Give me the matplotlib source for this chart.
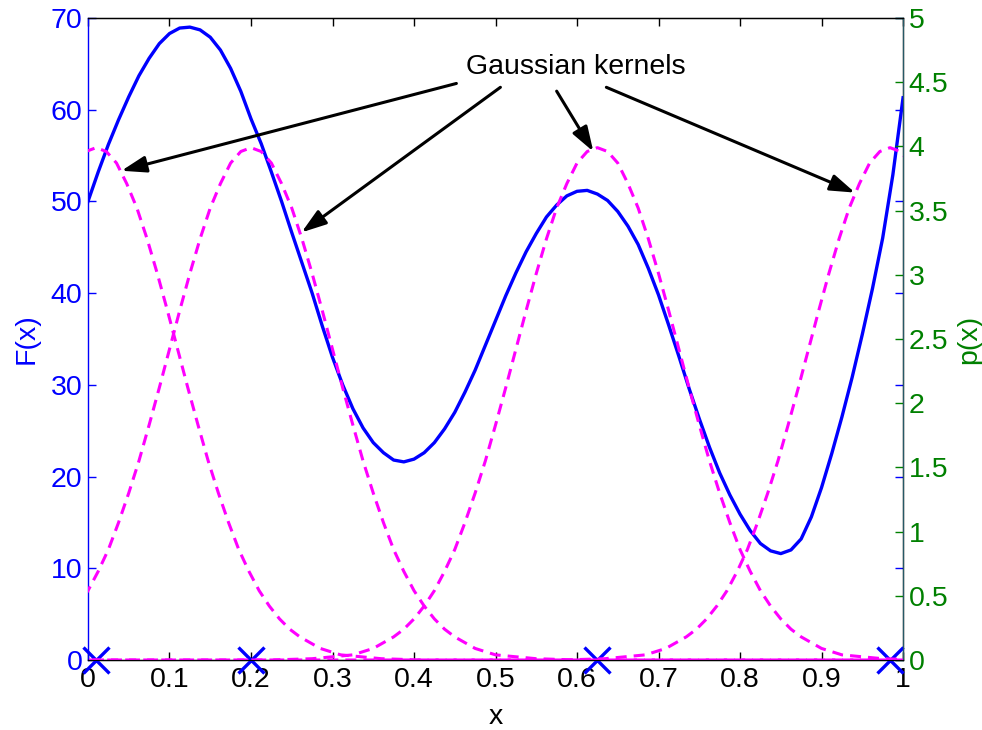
import matplotlib

matplotlib.use("Agg")
import matplotlib.pyplot as plt
import numpy as np
from matplotlib.axes import Axes
from matplotlib.figure import Figure

# F(x)
x_values = [0.0, 0.0125, 0.025, 0.0375, 0.05, 0.0625, 0.075, 0.0875, 0.1, 0.1125, 0.125, 0.1375,
            0.15, 0.1625, 0.175, 0.1875, 0.2, 0.2125, 0.225, 0.2375, 0.25, 0.2625, 0.275, 0.2875,
            0.3, 0.3125, 0.325, 0.3375, 0.35, 0.3625, 0.375, 0.3875, 0.4, 0.4125, 0.425, 0.4375,
            0.45, 0.4625, 0.475, 0.4875, 0.5, 0.5125, 0.525, 0.5375, 0.55, 0.5625, 0.575, 0.5875,
            0.6, 0.6125, 0.625, 0.6375, 0.65, 0.6625, 0.675, 0.6875, 0.7, 0.7125, 0.725, 0.7375,
            0.75, 0.7625, 0.775, 0.7875, 0.8, 0.8125, 0.825, 0.8375, 0.85, 0.8625, 0.875, 0.8875,
            0.9, 0.9125, 0.925, 0.9375, 0.95, 0.9625, 0.975, 0.9875, 1.0]
f_values = [50.0, 53.2, 56.2, 58.9, 61.4, 63.7, 65.6, 67.2, 68.3, 68.9, 69.0, 68.7,
            67.9, 66.5, 64.5, 62.0, 59.0, 56.3, 53.2, 50.0, 46.6, 43.3, 40.0, 36.4,
            33.0, 30.0, 27.4, 25.3, 23.7, 22.6, 21.8, 21.6, 21.9, 22.6, 23.7, 25.2,
            27.0, 29.2, 31.6, 34.3, 37.0, 39.7, 42.2, 44.5, 46.5, 48.3, 49.6, 50.6,
            51.1, 51.2, 50.8, 50.1, 48.9, 47.3, 45.3, 42.7, 39.8, 36.5, 33.1, 29.6,
            26.3, 23.2, 20.4, 18.0, 15.9, 14.1, 12.7, 11.9, 11.6, 12.0, 13.2, 15.6,
            18.8, 22.5, 26.5, 30.8, 35.5, 40.5, 46.0, 52.9, 61.3]

# kernel centres (the blue crosses) and the shape of one kernel
kernel_centers = [0.01, 0.2, 0.625, 0.984]
kernel_offsets = [0.0, 0.0125, 0.025, 0.0375, 0.05, 0.0625, 0.075, 0.0875, 0.1, 0.1125, 0.125,
                  0.1375, 0.15, 0.1625, 0.175, 0.1875, 0.2, 0.2125, 0.225, 0.2375, 0.25, 0.275,
                  0.3, 0.35, 0.4, 1.0]
kernel_profile = [3.99, 3.96, 3.87, 3.71, 3.52, 3.28, 3.01, 2.72, 2.42, 2.12, 1.83,
                  1.55, 1.30, 1.07, 0.86, 0.69, 0.54, 0.42, 0.32, 0.24, 0.18, 0.09,
                  0.04, 0.01, 0.0, 0.0]

label_text = "Gaussian kernels"
label_pos = (0.599, 4.62)
arrow_starts = [(0.452, 4.49), (0.506, 4.46), (0.575, 4.43), (0.636, 4.46)]
arrow_targets = [(0.041, 3.81), (0.262, 3.33), (0.620, 3.96), (0.941, 3.64)]

x_ticks = [0, 0.1, 0.2, 0.3, 0.4, 0.5, 0.6, 0.7, 0.8, 0.9, 1]
x_tick_labels = ["0", "0.1", "0.2", "0.3", "0.4", "0.5", "0.6", "0.7", "0.8", "0.9", "1"]
f_ticks = [0, 10, 20, 30, 40, 50, 60, 70]
p_ticks = [0, 0.5, 1, 1.5, 2, 2.5, 3, 3.5, 4, 4.5, 5]
p_tick_labels = ["0", "0.5", "1", "1.5", "2", "2.5", "3", "3.5", "4", "4.5", "5"]

BLUE = (0, 0, 1)
MAGENTA = (1, 0, 1)
GREEN = (0, 0.5, 0)
FONT = 20.5


def kernel_curve(center: float):
    """
    Builds a symmetric kernel around a centre from the one-sided profile
    :param center: kernel centre on x
    """
    offs = np.array(kernel_offsets)
    vals = np.array(kernel_profile)
    xs = np.concatenate([center - offs[::-1], center + offs[1:]])
    ys = np.concatenate([vals[::-1], vals[1:]])
    return xs, ys


plt.rcParams['font.family'] = ['Liberation Sans', 'DejaVu Sans']

fig: Figure = plt.figure(figsize=(9.82, 7.30), dpi=100)
ax: Axes = fig.add_axes([0.0896, 0.0959, 0.830, 0.8795])
ax2: Axes = ax.twinx()

ax.plot(x_values, f_values, color=BLUE, lw=2.4, zorder=3)
ax.plot(kernel_centers, [0] * len(kernel_centers), linestyle='none', marker='x', color=BLUE,
        markersize=19, markeredgewidth=2.4, clip_on=False, zorder=4)

for c in kernel_centers:
    kx, ky = kernel_curve(c)
    ax2.plot(kx, ky, color=MAGENTA, lw=2.2, linestyle=(0, (3.6, 2.3)))

ax.set_xlim(0, 1)
ax.set_ylim(0, 70)
ax2.set_ylim(0, 5)

ax.set_xticks(x_ticks)
ax.set_xticklabels(x_tick_labels)
ax.set_yticks(f_ticks)
ax2.set_yticks(p_ticks)
ax2.set_yticklabels(p_tick_labels)

ax.tick_params(axis='x', direction='in', length=6, width=1, top=True, colors='black',
               labelsize=FONT, pad=5)
ax.tick_params(axis='y', direction='in', length=6, width=1, right=True, colors=BLUE,
               labelsize=FONT, pad=4)
ax2.tick_params(axis='y', direction='in', length=6, width=1, colors=GREEN, labelsize=FONT, pad=4)

ax.spines['left'].set_color(BLUE)
ax.spines['bottom'].set_color('black')
ax.spines['top'].set_color('black')
ax2.spines['left'].set_visible(False)
ax2.spines['right'].set_color((0.15, 0.35, 0.4))
for s in ax.spines.values():
    s.set_linewidth(1)

ax.set_xlabel("x", fontsize=FONT, labelpad=8)
ax.set_ylabel("F(x)", fontsize=FONT, color=BLUE, labelpad=8)
ax2.set_ylabel("p(x)", fontsize=FONT, color=GREEN, rotation=90, labelpad=6)

ax2.text(label_pos[0], label_pos[1], label_text, fontsize=FONT, ha='center', va='center')
for start, target in zip(arrow_starts, arrow_targets):
    ax2.annotate("", xy=target, xytext=start,
                 arrowprops=dict(arrowstyle='-|>,head_length=1.5,head_width=0.5', color='black',
                                 lw=2.2, mutation_scale=10, shrinkA=0, shrinkB=0))

fig.savefig("out.png", dpi=100)
